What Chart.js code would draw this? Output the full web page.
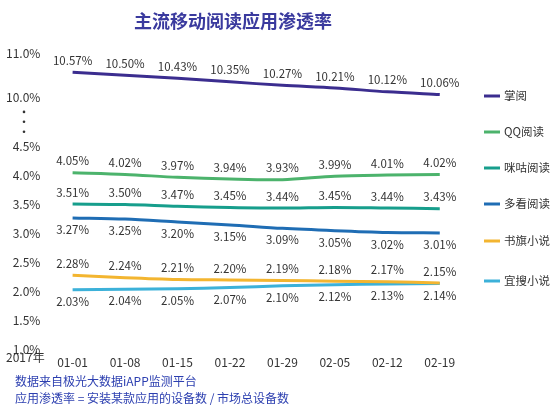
<!DOCTYPE html>
<html>
<head>
<meta charset="utf-8">
<script src="https://cdn.jsdelivr.net/npm/chart.js"></script>
<style>
  body { margin: 0; background: #fff; }
  #wrap { width: 552px; height: 414px; }
</style>
</head>
<body>
<div id="wrap"><canvas id="c"></canvas></div>
<script>
const categories = ["01-01", "01-08", "01-15", "01-22", "01-29", "02-05", "02-12", "02-19"];
const zhangyue = [10.57, 10.50, 10.43, 10.35, 10.27, 10.21, 10.12, 10.06];
const qq = [4.05, 4.02, 3.97, 3.94, 3.93, 3.99, 4.01, 4.02];
const migu = [3.51, 3.50, 3.47, 3.45, 3.44, 3.45, 3.44, 3.43];
const duokan = [3.27, 3.25, 3.20, 3.15, 3.09, 3.05, 3.02, 3.01];
const shuqi = [2.28, 2.24, 2.21, 2.20, 2.19, 2.18, 2.17, 2.15];
const yisou = [2.03, 2.04, 2.05, 2.07, 2.10, 2.12, 2.13, 2.14];
const tickValues = [1.0, 1.5, 2.0, 2.5, 3.0, 3.5, 4.0, 4.5, 10.0, 11.0];

// broken axis: below 4.5 is linear, above 10 is compressed
const gap = 0.854, upper = 0.749;
const fwd = v => v <= 4.5 ? v : 4.5 + gap + (v - 10) * upper;
const back = d => d <= 4.5 ? d : 10 + (d - 4.5 - gap) / upper;

const series = [
  { label: "掌阅", data: zhangyue, color: "#3b2d8f", pos: "top" },
  { label: "QQ阅读", data: qq, color: "#4cb36c", pos: "top" },
  { label: "咪咕阅读", data: migu, color: "#179e8c", pos: "top" },
  { label: "多看阅读", data: duokan, color: "#1f6db4", pos: "bottom" },
  { label: "书旗小说", data: shuqi, color: "#f3b530", pos: "top" },
  { label: "宜搜小说", data: yisou, color: "#3cb1d9", pos: "bottom" },
];
const legendY = [96, 132, 168, 204, 241, 281];

const extras = {
  id: "extras",
  afterDraw(chart) {
    const ctx = chart.ctx;
    ctx.save();
    ctx.font = '11.5px "Noto Sans CJK SC", sans-serif';
    ctx.textAlign = "center";
    // point labels
    series.forEach((s, i) => {
      const meta = chart.getDatasetMeta(i);
      meta.data.forEach((p, j) => {
        ctx.fillStyle = "#333";
        ctx.textBaseline = s.pos === "top" ? "bottom" : "top";
        ctx.fillText(s.data[j].toFixed(2) + "%", p.x, s.pos === "top" ? p.y - 6 : p.y + 6);
      });
    });
    // legend
    ctx.textAlign = "left";
    ctx.textBaseline = "middle";
    series.forEach((s, i) => {
      ctx.strokeStyle = s.color;
      ctx.lineWidth = 3;
      ctx.beginPath();
      ctx.moveTo(484, legendY[i]);
      ctx.lineTo(500, legendY[i]);
      ctx.stroke();
      ctx.fillStyle = "#333";
      ctx.fillText(s.label, 504, legendY[i]);
    });
    // axis break dots
    const y = chart.scales.y;
    ctx.fillStyle = "#333";
    [0.3, 0.5, 0.7].forEach(f => {
      const yy = y.getPixelForValue(4.5 + gap * (1 - f));
      ctx.beginPath();
      ctx.arc(24, yy, 1.3, 0, Math.PI * 2);
      ctx.fill();
    });
    ctx.font = '12px "Noto Sans CJK SC", sans-serif';
    ctx.fillText("2017年", 6, 357);
    ctx.fillStyle = "#2c3fb0";
    ctx.fillText("数据来自极光大数据iAPP监测平台", 15, 381);
    ctx.fillText("应用渗透率 = 安装某款应用的设备数 / 市场总设备数", 15, 398);
    ctx.restore();
  }
};

new Chart(document.getElementById("c"), {
  type: "line",
  data: {
    labels: categories,
    datasets: series.map(s => ({
      label: s.label,
      data: s.data.map(fwd),
      borderColor: s.color,
      backgroundColor: s.color,
      borderWidth: 3,
      pointRadius: 0,
      tension: 0.3,
    })),
  },
  options: {
    responsive: true,
    maintainAspectRatio: false,
    animation: false,
    layout: { padding: { left: 0, right: 86, top: 0, bottom: 38 } },
    plugins: {
      legend: { display: false },
      tooltip: { enabled: false },
      title: {
        display: true,
        text: "主流移动阅读应用渗透率",
        color: "#3a3a9e",
        font: { family: '"Noto Sans CJK SC", sans-serif', size: 18, weight: "bold" },
        padding: { top: 10, bottom: 22 },
      },
    },
    scales: {
      x: {
        offset: true,
        grid: { display: false, drawTicks: false },
        border: { display: false },
        ticks: { color: "#333", padding: 6, font: { family: '"Noto Sans CJK SC", sans-serif', size: 12 } },
      },
      y: {
        min: 1.0,
        max: fwd(11.0),
        afterBuildTicks(scale) {
          scale.ticks = tickValues.map(v => ({ value: fwd(v) }));
        },
        grid: { display: false, drawTicks: false },
        border: { display: false },
        ticks: {
          color: "#333",
          padding: 6,
          font: { family: '"Noto Sans CJK SC", sans-serif', size: 12 },
          callback: v => back(v).toFixed(1) + "%",
        },
      },
    },
  },
  plugins: [extras],
});
</script>
</body>
</html>
